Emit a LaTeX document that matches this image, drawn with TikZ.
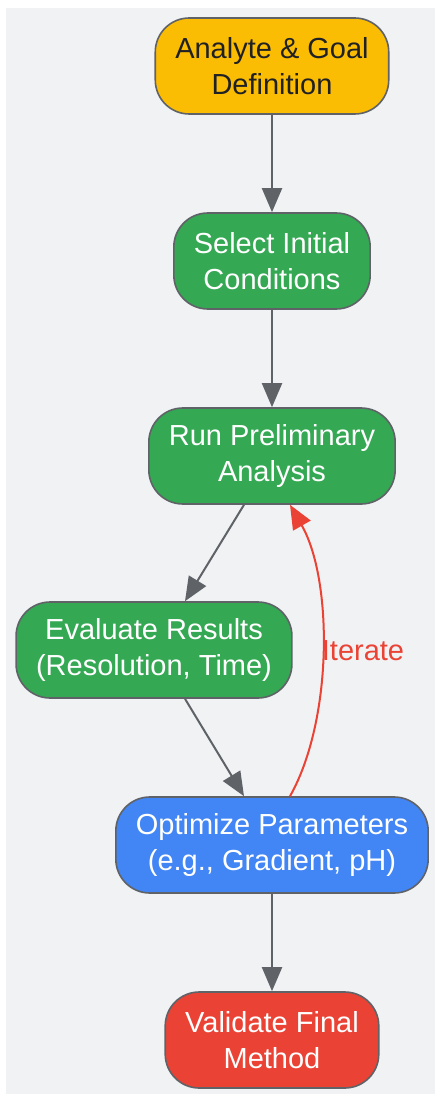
\documentclass[tikz,border=0pt]{standalone}
\usepackage{fontspec}
\setmainfont{Liberation Sans}
\usepackage{tikz}
\usetikzlibrary{arrows.meta}
\definecolor{bgpanel}{HTML}{F1F2F4}
\definecolor{edgegray}{HTML}{5F6368}
\definecolor{goalyellow}{HTML}{FBBC04}
\definecolor{stepgreen}{HTML}{34A853}
\definecolor{optblue}{HTML}{4285F4}
\definecolor{finalred}{HTML}{EA4335}
\definecolor{darktext}{HTML}{202124}
\tikzset{
  stepbox/.style={draw=edgegray, line width=1.6pt, rounded corners=34pt,
    minimum height=96pt, inner xsep=20pt, align=center, text=white,
    font=\fontsize{29}{36}\selectfont},
  flow/.style={draw=edgegray, line width=2pt, -{Triangle[length=24pt,width=20pt]}},
  loopback/.style={draw=finalred, line width=2pt, -{Triangle[length=24pt,width=20pt]}},
}

\begin{document}
\begin{tikzpicture}[x=1pt,y=-1pt]
    \useasboundingbox (0,0) rectangle (435,1094);
    \fill[bgpanel] (6,8) rectangle (435,1094);
    % steps
    \node[stepbox, fill=goalyellow, text=darktext] (goal) at (272,66) {Analyte \& Goal\\Definition};
    \node[stepbox, fill=stepgreen] (init) at (272,261) {Select Initial\\Conditions};
    \node[stepbox, fill=stepgreen] (prelim) at (272,456) {Run Preliminary\\Analysis};
    \node[stepbox, fill=stepgreen] (eval) at (154,650) {Evaluate Results\\(Resolution, Time)};
    \node[stepbox, fill=optblue] (optim) at (272,845) {Optimize Parameters\\(e.g., Gradient, pH)};
    \node[stepbox, fill=finalred] (valid) at (272,1040) {Validate Final\\Method};
    % connectors
    \draw[flow] (goal) -- (init);
    \draw[flow] (init) -- (prelim);
    \draw[flow] ([xshift=-28pt]prelim.south) -- ([xshift=31pt]eval.north);
    \draw[flow] ([xshift=31pt]eval.south) -- ([xshift=-28pt]optim.north);
    \draw[flow] (optim) -- (valid);
    \draw[loopback] ([xshift=18pt]optim.north) .. controls (333,720) and (333,580) .. ([xshift=18pt]prelim.south);
    \node[text=finalred, font=\fontsize{29}{36}\selectfont] (iter) at (363,651) {Iterate};
\end{tikzpicture}
\end{document}
